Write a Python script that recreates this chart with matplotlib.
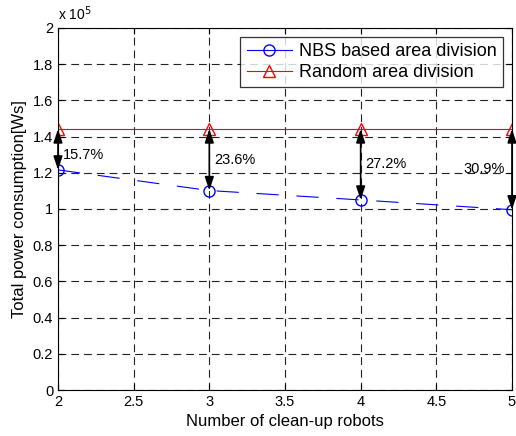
import matplotlib
matplotlib.use("Agg")
import matplotlib.pyplot as plt
from matplotlib.ticker import FuncFormatter

plt.rcParams['font.family'] = ['Liberation Sans', 'DejaVu Sans']

robots = [2, 3, 4, 5]
nbs = [1.216e5, 1.102e5, 1.050e5, 0.996e5]
rnd = [1.442e5, 1.442e5, 1.442e5, 1.442e5]
pct_labels = ['15.7%', '23.6%', '27.2%', '30.9%']
pct_text_pos = [(2.03, 1.30e5, 'left'), (3.03, 1.27e5, 'left'),
                (4.03, 1.25e5, 'left'), (4.95, 1.22e5, 'right')]

fig = plt.figure(figsize=(5.16, 4.36), dpi=100)
ax = fig.add_axes([0.1124, 0.1055, 0.8798, 0.8303])

ax.plot(robots, nbs, color='blue', linestyle=(0, (20, 16)), linewidth=0.8,
        marker='o', markersize=8, markerfacecolor='none', markeredgecolor='blue',
        label='NBS based area division')
ax.plot(robots, rnd, color='red', linestyle='-', linewidth=0.8,
        marker='^', markersize=8, markerfacecolor='none', markeredgecolor='red',
        label='Random area division')

for x, a, b in zip(robots, rnd, nbs):
    ax.annotate('', xy=(x, b), xytext=(x, a),
                arrowprops=dict(arrowstyle='<|-|>,head_length=0.9,head_width=0.3',
                                mutation_scale=9,
                                color='black', lw=1.2, shrinkA=0, shrinkB=0))
for (tx, ty, ha), lab in zip(pct_text_pos, pct_labels):
    ax.text(tx, ty, lab, fontsize=10.5, va='center', ha=ha)

ax.set_xlim(2, 5)
ax.set_ylim(0, 2e5)
ax.set_xticks([2, 2.5, 3, 3.5, 4, 4.5, 5])
ax.set_yticks([i * 0.2e5 for i in range(11)])
ax.xaxis.set_major_formatter(FuncFormatter(lambda v, p: '%g' % v))
ax.yaxis.set_major_formatter(FuncFormatter(lambda v, p: '%g' % round(v / 1e5, 2)))
ax.tick_params(direction='in', labelsize=10.5, length=4, top=True, right=True)
ax.grid(True, color='#222222', linestyle=(0, (7, 4.5)), linewidth=0.8)
for s in ax.spines.values():
    s.set_linewidth(0.8)

ax.text(0.0, 1.015, r'x 10$^5$', transform=ax.transAxes, fontsize=10, va='bottom', ha='left')

ax.set_xlabel('Number of clean-up robots', fontsize=12, labelpad=4)
ax.set_ylabel('Total power consumption[Ws]', fontsize=12, labelpad=4)

leg = ax.legend(loc='upper right', fontsize=13, frameon=True, fancybox=False,
                edgecolor='black', borderpad=0.35, handlelength=2.5, markerscale=1.0,
                borderaxespad=0.5, labelspacing=0.2, handletextpad=0.4)
leg.get_frame().set_linewidth(0.9)
for h in leg.legend_handles:
    h.set_linestyle('-')

fig.savefig('out.png', dpi=100)
